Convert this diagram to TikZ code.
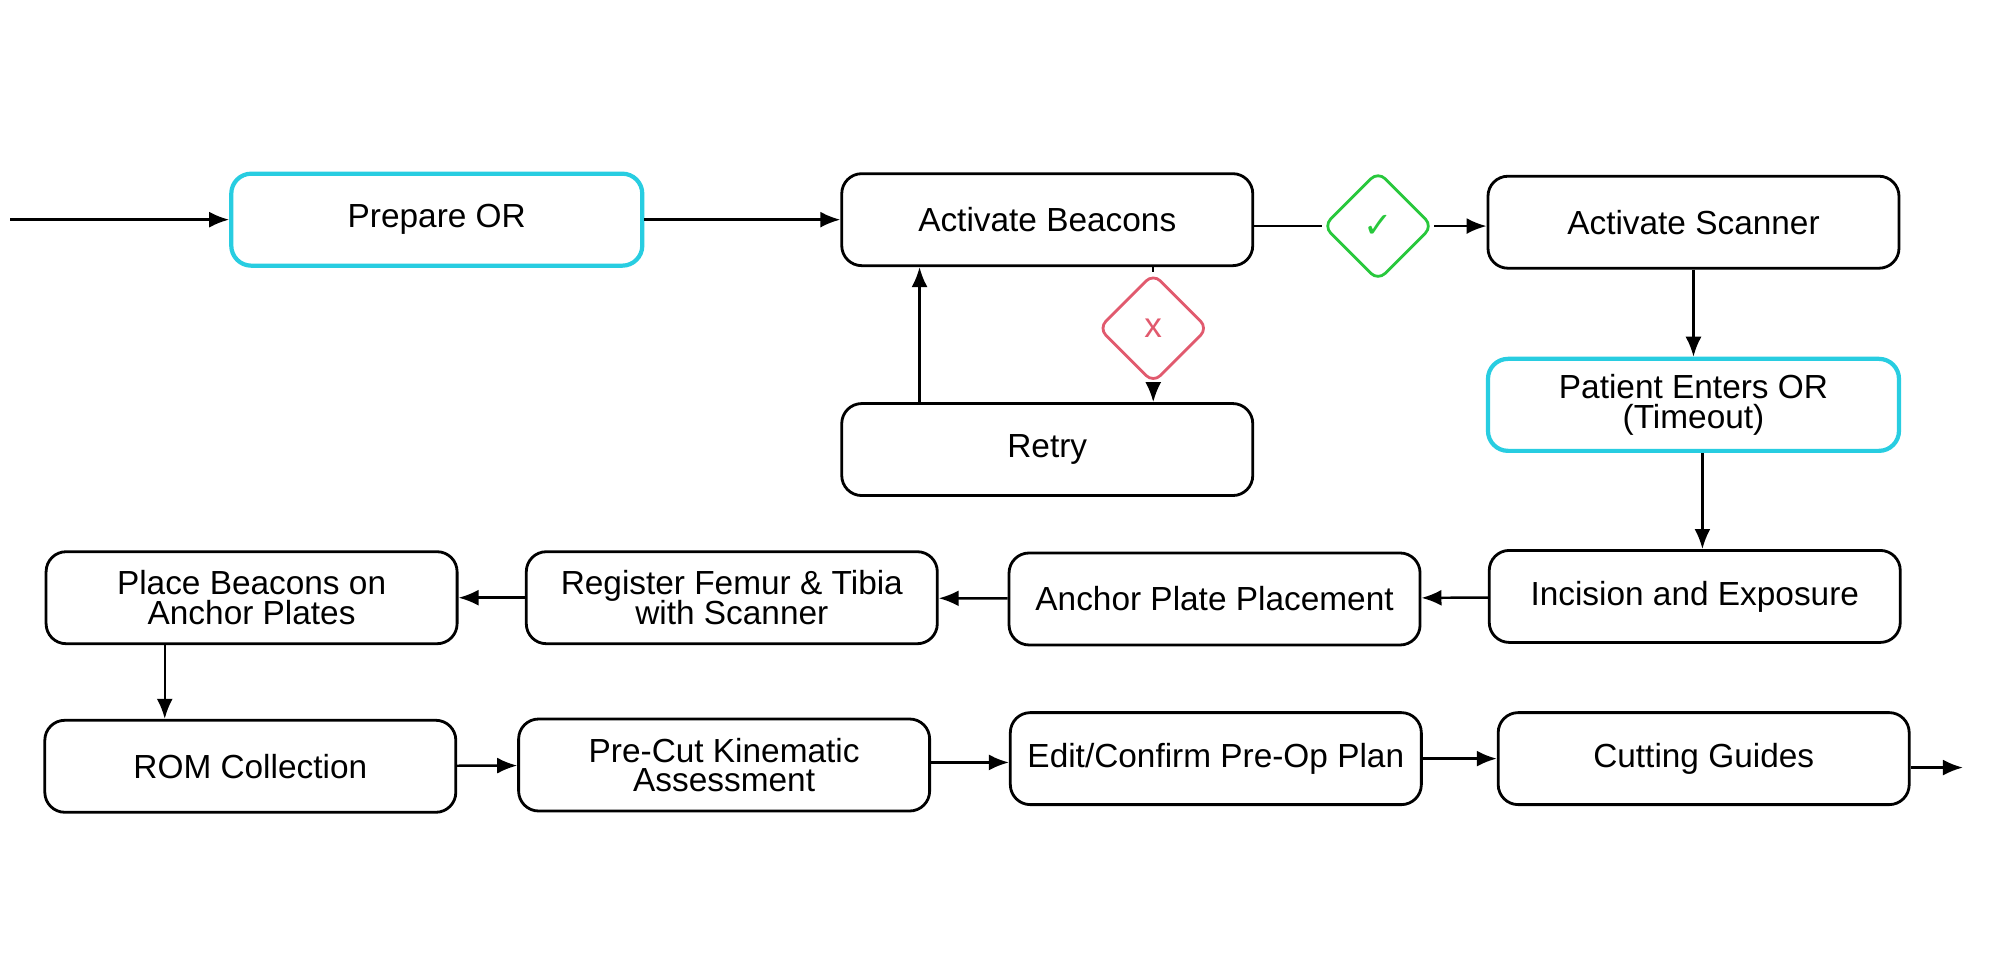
\documentclass[tikz,border=0pt]{standalone}
\usepackage{fontspec}
\setmainfont{Liberation Sans}
\newfontfamily\symfont{DejaVu Sans}
\usetikzlibrary{arrows.meta, positioning, shapes.geometric}
\definecolor{boxcyan}{RGB}{40,205,225}
\definecolor{okgreen}{RGB}{40,200,60}
\definecolor{nopink}{RGB}{225,90,110}
\tikzset{
  stepbox/.style={rectangle,draw,rounded corners=0.2cm,line width=0.8pt,minimum width=4.11cm,minimum height=0.92cm,align=center,font=\fontsize{9.5}{10.5}\selectfont},
  keybox/.style={stepbox,draw=boxcyan,line width=1.2pt},
  gate/.style={diamond,draw,rounded corners=0.1cm,line width=0.8pt,minimum size=1.1cm,inner sep=0pt},
  link/.style={-{Latex[length=2mm,width=1.6mm]},line width=0.7pt}
}
\begin{document}
\begin{tikzpicture}[x=0.01277cm,y=-0.01277cm]
    \useasboundingbox (0,0) rectangle (1566,763.5);
    % oberste Reihe
    \node[keybox] (prep) at (342,172) {Prepare OR};
    \node[stepbox] (beac) at (820,172) {Activate Beacons};
    \node[gate,draw=okgreen] (ok) at (1079,177) {\symfont\color{okgreen}✓};
    \node[stepbox] (scan) at (1326,174) {Activate Scanner};
    \node[gate,draw=nopink] (no) at (903,257) {\color{nopink}x};
    \node[stepbox] (retry) at (820,352) {Retry};
    \node[keybox] (pat) at (1326,317) {Patient Enters OR\\[-2pt](Timeout)};
    % mittlere Reihe
    \node[stepbox] (inc) at (1327,467) {Incision and Exposure};
    \node[stepbox] (anch) at (951,469) {Anchor Plate Placement};
    \node[stepbox] (reg) at (573,468) {Register Femur \& Tibia\\[-2pt]with Scanner};
    \node[stepbox] (place) at (197,468) {Place Beacons on\\[-2pt]Anchor Plates};
    % untere Reihe
    \node[stepbox] (rom) at (196,600) {ROM Collection};
    \node[stepbox] (pcut) at (567,599) {Pre-Cut Kinematic\\[-2pt]Assessment};
    \node[stepbox] (edit) at (952,594) {Edit/Confirm Pre-Op Plan};
    \node[stepbox] (cut) at (1334,594) {Cutting Guides};
    \coordinate (start) at (8,172);
    \coordinate (end) at (1537,601);

    % Verbindungen
    \draw[link] (start) -- (prep);
    \draw[link] (prep) -- (beac);
    \draw[line width=0.7pt] (beac.east |- ok) -- (ok);
    \draw[link] (ok) -- (scan.west |- ok);
    \draw[link] (scan) -- (pat);
    \draw[link] (pat.south -| 1333,0) -- (inc.north -| 1333,0);
    \draw[line width=0.7pt] (beac.south -| no) -- (no);
    \draw[link] (no) -- (retry.north -| no);
    \draw[link] (retry.north -| 720,0) -- (beac.south -| 720,0);
    \draw[link] (inc) -- (anch);
    \draw[link] (anch) -- (reg);
    \draw[link] (reg) -- (place);
    \draw[link] (place.south -| 129,0) -- (rom.north -| 129,0);
    \draw[link] (rom) -- (pcut);
    \draw[link] (pcut.east |- 0,597) -- (edit.west |- 0,597);
    \draw[link] (edit) -- (cut);
    \draw[link] (cut.east |- end) -- (end);
\end{tikzpicture}
\end{document}
